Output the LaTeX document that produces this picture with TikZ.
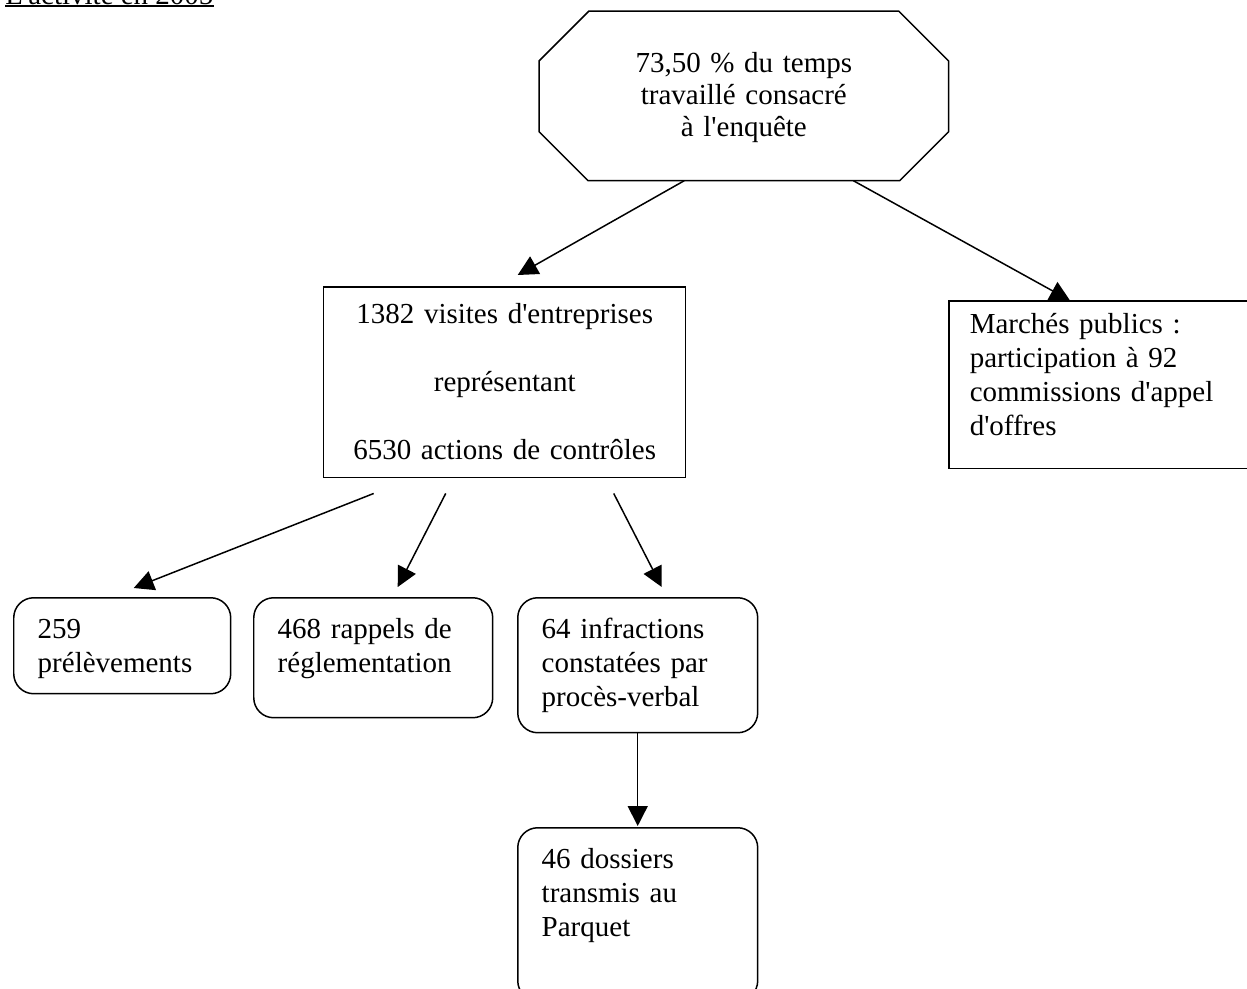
\documentclass[tikz,border=0pt]{standalone}
\usepackage{fontspec}
\setmainfont{Liberation Serif}[Ligatures=TeXOff]
\usetikzlibrary{arrows.meta,calc,backgrounds}

\begin{document}
\begin{tikzpicture}[
    x=0.02cm, y=-0.02cm,
    font=\fontsize{16.5pt}{19.35pt}\selectfont,
    octo/.style={anchor=north west, inner sep=0pt, align=center},
    box/.style={draw, line width=0.85pt, anchor=north west, inner ysep=0pt, fill=white},
    rbox/.style={box, rounded corners=0.4cm, align=left, inner xsep=0.48cm},
    arrow/.style={-{Triangle[length=0.4cm, width=0.4cm]}, line width=0.85pt}
]
    \useasboundingbox (0,0) rectangle (1247,988);

    \node[anchor=base west, inner sep=0pt] (title) at (5,4) {L'activité en 2005};
    \draw[line width=1.1pt] ($(title.base west)+(0,2)$) -- ($(title.base east)+(0,2)$);

    \node[octo, text width=8.18cm, text height=1.22cm, text depth=2.16cm,
          font=\fontsize{16.5pt}{18.2pt}\selectfont] (temps) at (539,11)
        {73,50 \% du temps\\travaillé consacré\\à l'enquête};
    \draw[line width=0.85pt] ($(temps.north west)+(50,0)$) -- ($(temps.north east)+(-50,0)$)
        -- ($(temps.north east)+(0,50)$) -- ($(temps.south east)+(0,-49)$)
        -- ($(temps.south east)+(-49,0)$) -- ($(temps.south west)+(49,0)$)
        -- ($(temps.south west)+(0,-49)$) -- ($(temps.north west)+(0,50)$) -- cycle;

    \node[box, align=center, inner xsep=0pt, text width=7.24cm, text height=0.74cm, text depth=3.08cm]
        (visites) at (323,286)
        {1382 visites d'entreprises\\[0.675cm]représentant\\[0.675cm]6530 actions de contrôles};
    \node[box, align=left, inner xsep=0.42cm, text width=5.9cm, text height=0.66cm, text depth=2.7cm]
        (marches) at (948,300)
        {Marchés publics :\\participation à 92\\commissions d'appel\\d'offres};

    \node[rbox, text width=3.38cm, text height=0.82cm, text depth=1.1cm] (prelev) at (13,597)
        {259\\prélèvements};
    \node[rbox, text width=3.82cm, text height=0.82cm, text depth=1.58cm] (rappels) at (253,597)
        {468 rappels de\\réglementation};
    \node[rbox, text width=3.84cm, text height=0.82cm, text depth=1.88cm] (infract) at (517,597)
        {64 infractions\\constatées par\\procès-verbal};
    \node[rbox, text width=3.84cm, text height=0.82cm, text depth=2.64cm] (dossiers) at (517,827)
        {46 dossiers\\transmis au\\Parquet};

    \draw[arrow] ($(temps.south)+(-59.5,0)$) -- ($(visites.north)+(13,-11)$);
    \begin{scope}[on background layer]
        \draw[arrow] ($(temps.south)+(109.5,0)$) -- ($(marches.north west)+(122,0.5)$);
    \end{scope}
    \draw[arrow] ($(visites.south)+(-131,15)$) -- ($(prelev.north)+(11.5,-9)$);
    \draw[arrow] ($(visites.south)+(-59,15)$) -- ($(rappels.north)+(24.5,-10)$);
    \draw[arrow] ($(visites.south)+(109,15)$) -- ($(infract.north)+(24,-10)$);
    \draw[arrow] (infract.south) -- ($(dossiers.north)+(0,-1)$);
\end{tikzpicture}
\end{document}
